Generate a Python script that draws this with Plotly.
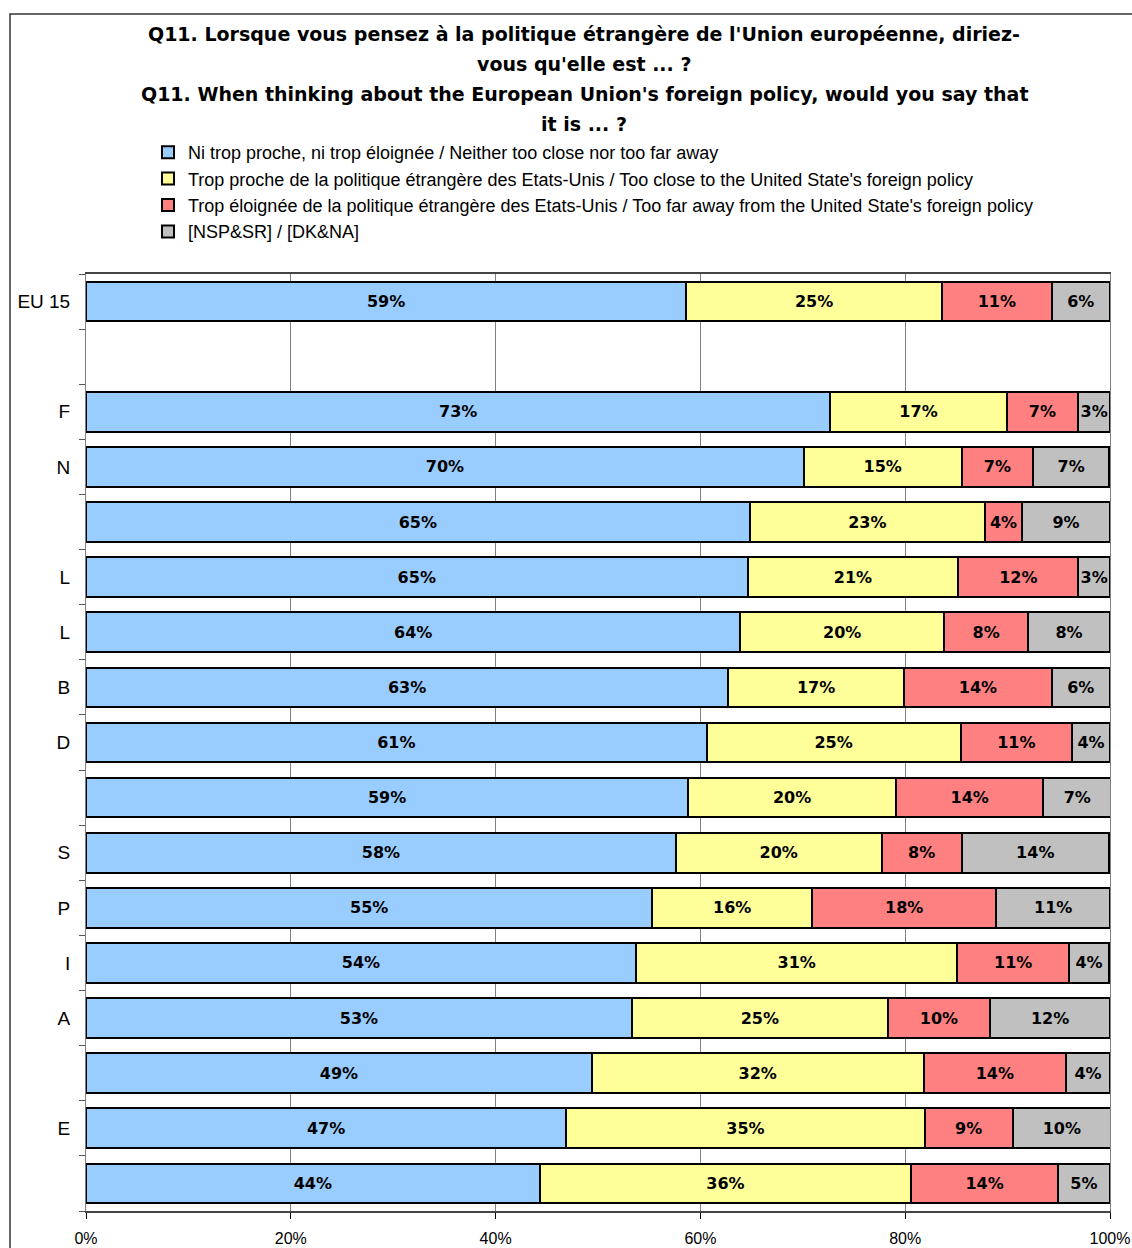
import plotly.graph_objects as go

countries = ["EU 15", "", "F", "N", "", "L", "L", "B", "D", "", "S", "P", "I", "A", "", "E", ""]
neither = [58.6, None, 72.7, 70.1, 64.8, 64.6, 63.9, 62.7, 60.6, 58.8, 57.6, 55.3, 53.7, 53.3, 49.4, 46.9, 44.3]
too_close = [25.0, None, 17.2, 15.4, 23.0, 20.6, 19.9, 17.2, 24.8, 20.3, 20.1, 15.6, 31.4, 25.0, 32.4, 35.0, 36.3]
too_far = [10.7, None, 7.0, 7.0, 3.6, 11.7, 8.2, 14.4, 10.9, 14.4, 7.8, 18.0, 10.9, 10.0, 13.9, 8.6, 14.3]
dk = [5.7, None, 3.1, 7.4, 8.6, 3.1, 8.0, 5.7, 3.7, 6.6, 14.4, 11.1, 3.9, 11.7, 4.3, 9.6, 5.1]

series_names = [
    "Ni trop proche, ni trop éloignée / Neither too close nor too far away",
    "Trop proche de la politique étrangère des Etats-Unis / Too close to the United State's foreign policy",
    "Trop éloignée de la politique étrangère des Etats-Unis / Too far away from the United State's foreign policy",
    "[NSP&SR] / [DK&NA]",
]
colors = ["#99CCFF", "#FFFF99", "#FF8080", "#C0C0C0"]
x_ticks = [0, 20, 40, 60, 80, 100]
x_tick_labels = ["0%", "20%", "40%", "60%", "80%", "100%"]

title_lines = [
    "Q11. Lorsque vous pensez à la politique étrangère de l'Union européenne, diriez-",
    "vous qu'elle est ... ?",
    "Q11. When thinking about the European Union's foreign policy, would you say that",
    "it is ... ?",
]

W, H = 1132, 1248
ML, MR, MT, MB = 86, 22, 274, 37
PW = W - ML - MR
PH = H - MT - MB

def px_x(px):
    return (px - ML) / PW

def px_y(py):
    return (H - MB - py) / PH

rows = list(range(len(countries)))

fig = go.Figure()
for name, vals, col, g in zip(series_names, [neither, too_close, too_far, dk], colors, range(4)):
    fig.add_trace(go.Bar(
        x=vals, y=rows, orientation="h", name=name,
        marker=dict(color=col, line=dict(color="black", width=2)),
        width=0.72,
        texttemplate="%{x:.0f}%", textposition="inside", insidetextanchor="middle",
        textangle=0, constraintext="none",
        insidetextfont=dict(family="DejaVu Sans", size=16, color="black", weight="bold"),
        legendgroup=f"g{g}", hoverinfo="skip",
    ))

annotations = []
for line, py in zip(title_lines, [34, 64, 94, 124]):
    annotations.append(dict(
        text=f"<b>{line}</b>", x=px_x(584), y=px_y(py), xref="paper", yref="paper",
        xanchor="center", yanchor="middle", showarrow=False,
        font=dict(family="DejaVu Sans", size=19, color="black"),
    ))

fig.update_layout(
    width=W, height=H,
    margin=dict(l=ML, r=MR, t=MT, b=MB, autoexpand=False),
    paper_bgcolor="white", plot_bgcolor="white",
    barmode="stack", bargap=0.28,
    showlegend=True,
    legend=dict(
        x=px_x(148), y=px_y(134), xanchor="left", yanchor="top",
        traceorder="normal", tracegroupgap=3, orientation="v",
        font=dict(family="Liberation Sans", size=18, color="black"),
        bgcolor="rgba(0,0,0,0)", itemwidth=30,
    ),
    annotations=annotations,
    xaxis=dict(
        range=[0, 100], tickmode="array", tickvals=x_ticks, ticktext=x_tick_labels,
        showgrid=True, gridcolor="#808080", gridwidth=1,
        showline=True, linecolor="#444444", linewidth=2, mirror=True,
        ticks="outside", ticklen=6, tickcolor="black", ticklabelstandoff=6,
        tickfont=dict(family="Liberation Sans", size=16, color="black"),
        zeroline=False, fixedrange=True,
    ),
    yaxis=dict(
        range=[len(countries) - 0.5, -0.5],
        tickmode="array", tickvals=rows, ticktext=countries,
        ticks="", ticklabelstandoff=11,
        tickfont=dict(family="Liberation Sans", size=19, color="black"),
        showline=True, linecolor="#808080", linewidth=1, mirror=True,
        showgrid=False, zeroline=False,
        minor=dict(tickmode="linear", tick0=-0.5, dtick=1, ticks="outside", ticklen=6, tickcolor="#555555", showgrid=False),
        fixedrange=True,
    ),
    shapes=[dict(
        type="rect", xref="paper", yref="paper",
        x0=px_x(10), x1=px_x(1145), y0=px_y(1260), y1=px_y(14),
        line=dict(color="#333333", width=1.5), fillcolor="rgba(0,0,0,0)", layer="below",
    )],
)

fig.write_html("out.html", config={"displayModeBar": False},
               post_script="document.body.style.margin='0';")
